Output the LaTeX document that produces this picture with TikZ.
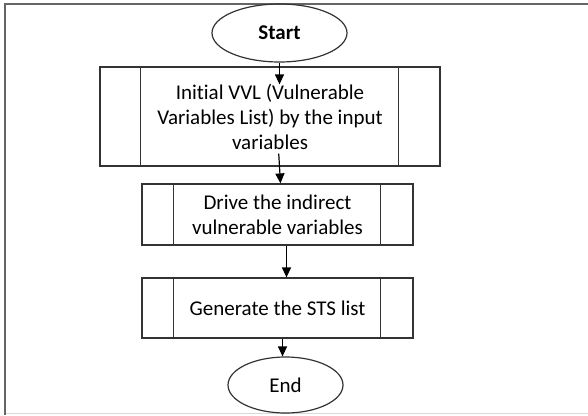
\documentclass[tikz,border=0pt]{standalone}
\usepackage{fontspec}
\setmainfont{Carlito}[Ligatures=NoCommon]
\usetikzlibrary{shapes.geometric,arrows.meta}

\begin{document}
\begin{tikzpicture}[x=1pt,y=-1pt]

                % flow chart, boxes with side bars
                \tikzset{flowline/.style={draw=black!80,line width=1.2pt}}
                \tikzset{procbox/.style={flowline,rectangle,align=center,inner sep=0pt,font=\fontsize{21}{25}\selectfont}}
                \tikzset{termnode/.style={flowline,ellipse,inner sep=0pt,font=\fontsize{21}{25}\selectfont}}
                \tikzset{flowarrow/.style={-{Triangle[length=10pt,width=9pt]},line width=1.2pt,black}}

                \useasboundingbox (0,0) rectangle (588,415);

                % frame
                \draw[black!15,line width=1pt] (5,413.5) -- (588,413.5);
                \draw[black!60,line width=1.6pt] (5,415) -- (5,4) -- (588,4);

                \node [termnode,minimum width=135pt,minimum height=58pt] (start) at (279.5,33) {\bfseries Start};
                \node [procbox,minimum width=340pt,minimum height=99pt] (vvl) at (270,116.5)
                    {Initial VVL (Vulnerable\\Variables List) by the input\\variables};
                \node [procbox,minimum width=271pt,minimum height=61pt] (drive) at (277.5,214.5)
                    {Drive the indirect\\vulnerable variables};
                \node [procbox,minimum width=271pt,minimum height=60pt] (sts) at (277.5,308)
                    {Generate the STS list};
                \node [termnode,minimum width=115pt,minimum height=56pt] (end) at (285.5,385) {End};

                % side bars
                \draw[flowline] ([xshift=41pt]vvl.north west) -- ([xshift=41pt]vvl.south west);
                \draw[flowline] ([xshift=-42pt]vvl.north east) -- ([xshift=-42pt]vvl.south east);
                \foreach \b in {drive,sts} {
                    \draw[flowline] ([xshift=32pt]\b.north west) -- ([xshift=32pt]\b.south west);
                    \draw[flowline] ([xshift=-33pt]\b.north east) -- ([xshift=-33pt]\b.south east);
                }

                \draw[flowarrow,shorten >=-18pt] (start.south) -- (start.south |- vvl.north);
                \draw[flowarrow,shorten <=-13pt] (start.south |- vvl.south) -- ([xshift=1pt]start.south |- drive.north);
                \draw[flowarrow] ([xshift=9pt]drive.south) -- ([xshift=9pt]sts.north);
                \draw[flowarrow] ([xshift=5pt]sts.south) -- ([xshift=5pt]sts.south |- end.north);

            \end{tikzpicture}
\end{document}
